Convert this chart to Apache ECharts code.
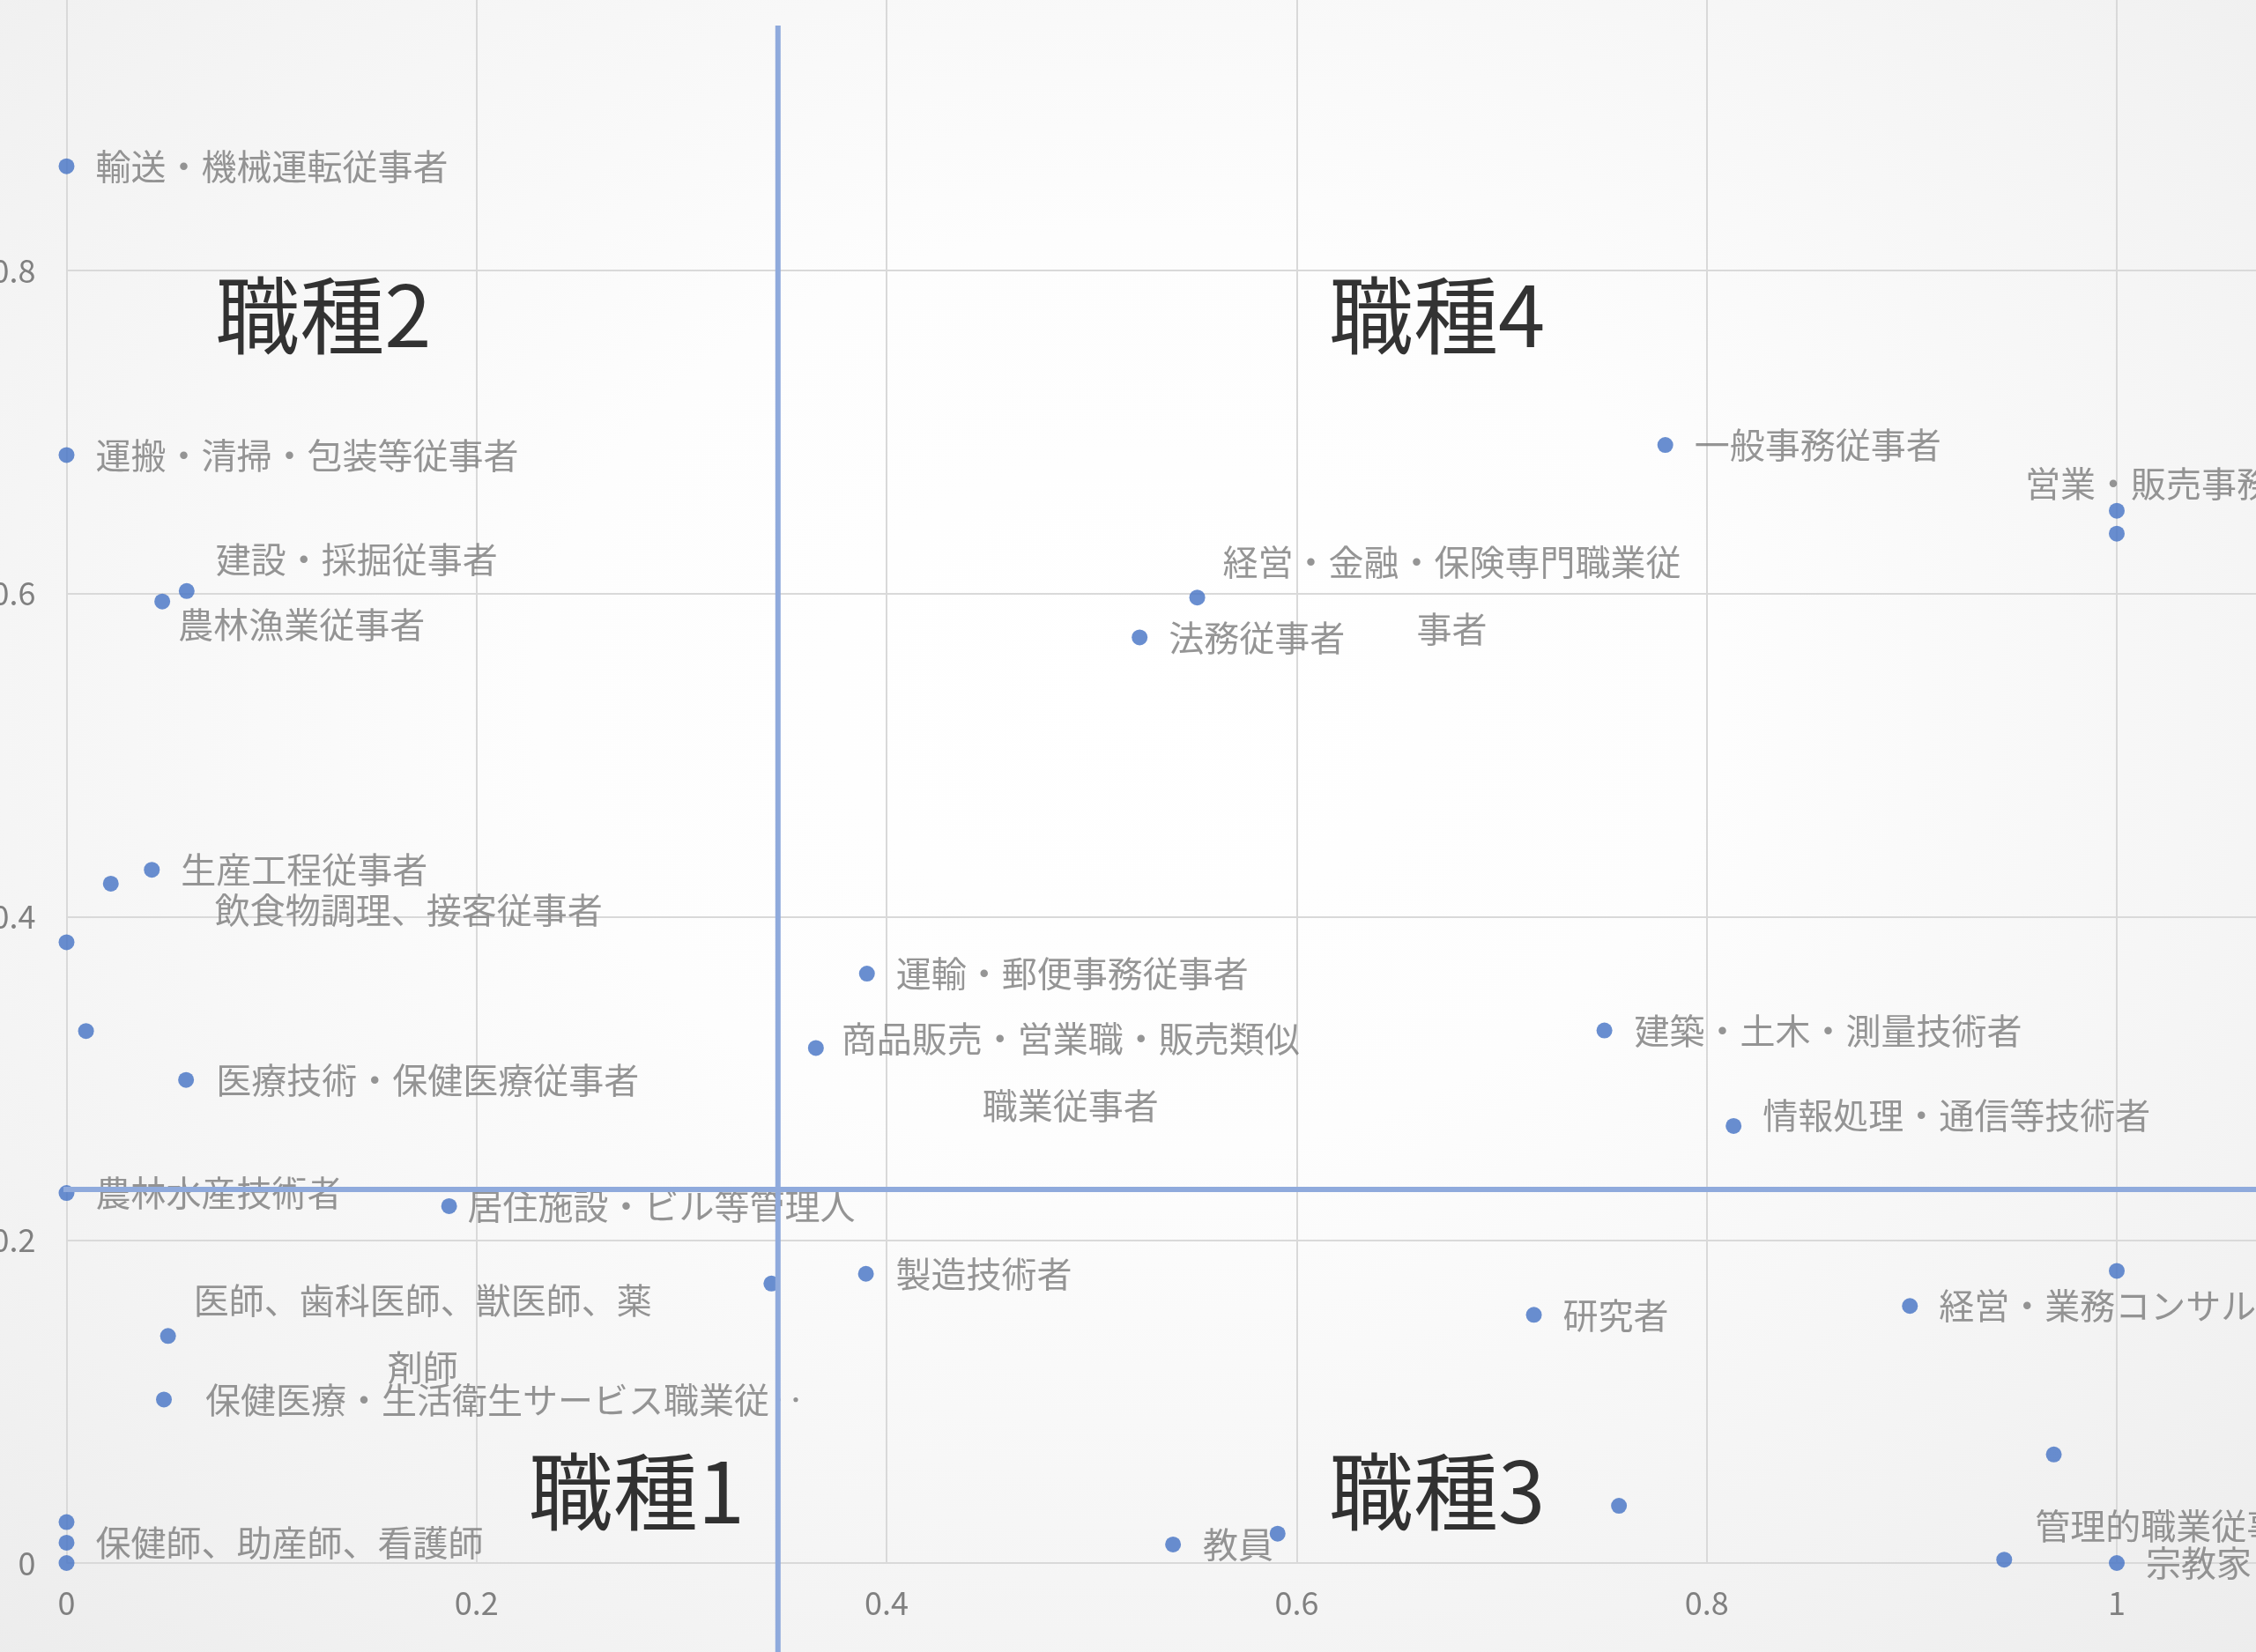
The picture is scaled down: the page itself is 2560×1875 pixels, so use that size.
<!DOCTYPE html>
<html>
<head>
<meta charset="utf-8">
<script src="https://cdn.jsdelivr.net/npm/echarts@6/dist/echarts.min.js"></script>
<style>
html, body { margin: 0; padding: 0; width: 2560px; height: 1875px; overflow: hidden; }
body { background: radial-gradient(ellipse 75% 80% at 50% 42%, #ffffff 0%, #fdfdfd 35%, #f3f3f3 75%, #ececec 100%); position: relative; }
#chart { position: absolute; left: 0; top: -200px; width: 2900px; height: 2200px; }
</style>
</head>
<body>
<div id="chart"></div>
<script>
// ---- data ----
const names = [
  '輸送・機械運転従事者', '運搬・清掃・包装等従事者', '建設・採掘従事者', '農林漁業従事者',
  '生産工程従事者', '飲食物調理、接客従事者', '', '',
  '医療技術・保健医療従事者', '農林水産技術者', '居住施設・ビル等管理人', '',
  '医師、歯科医師、獣医師、薬剤師', '保健医療・生活衛生サービス職業従‥', '', '保健師、助産師、看護師', '',
  '運輸・郵便事務従事者', '商品販売・営業職・販売類似職業従事者', '製造技術者', '教員', '',
  '経営・金融・保険専門職業従事者', '法務従事者', '一般事務従事者', '営業・販売事務従事者', '',
  '建築・土木・測量技術者', '情報処理・通信等技術者', '', '経営・業務コンサルタント', '研究者',
  '', '', '管理的職業従事者', '宗教家'
];
const xValues = [
  0.000, 0.000, 0.0586, 0.0467,
  0.0416, 0.0216, 0.000, 0.0095,
  0.0583, 0.000, 0.1866, 0.3438,
  0.0495, 0.0475, 0.000, 0.000, 0.000,
  0.3904, 0.3655, 0.3899, 0.5397, 0.5907,
  0.5515, 0.5234, 0.7798, 1.000, 1.000,
  0.7501, 0.8131, 1.000, 0.8991, 0.7157,
  0.9693, 0.7572, 0.9451, 1.000
];
const yValues = [
  0.8645, 0.6858, 0.6016, 0.5951,
  0.4291, 0.4205, 0.3842, 0.3293,
  0.2990, 0.2290, 0.2209, 0.1730,
  0.1405, 0.1012, 0.0253, 0.0126, 0.000,
  0.3648, 0.3188, 0.1790, 0.0115, 0.0182,
  0.5976, 0.5729, 0.6920, 0.6513, 0.6371,
  0.3296, 0.2705, 0.1808, 0.1591, 0.1536,
  0.0672, 0.0354, 0.0021, 0.000
];
// quadrant divider positions (data units)
const splitX = 0.347;
const splitXTop = 0.9516;
const splitY = 0.2312;
// quadrant titles and their anchor points (data units)
const quadrantNames = ['職種2', '職種4', '職種1', '職種3'];
const quadrantX = [0.1253, 0.6684, 0.2781, 0.6684];
const quadrantY = [0.7722, 0.7722, 0.0442, 0.0442];
// axes
const xAxisMin = 0, xAxisMax = 1.2, xAxisStep = 0.2;
const yAxisMin = 0, yAxisMax = 1.0, yAxisStep = 0.2;

// ---- label layout (pixel offsets from marker centre; true = wrapped & centred) ----
const labelLayout = {
  '輸送・機械運転従事者': [33, 0],
  '運搬・清掃・包装等従事者': [33, 0],
  '建設・採掘従事者': [33, -36],
  '農林漁業従事者': [18, 26],
  '生産工程従事者': [33, 0],
  '飲食物調理、接客従事者': [118, 30],
  '医療技術・保健医療従事者': [34, 0],
  '農林水産技術者': [33, 0],
  '居住施設・ビル等管理人': [21, 0],
  '医師、歯科医師、獣医師、薬剤師': [289, -3, true],
  '保健医療・生活衛生サービス職業従‥': [47, 0],
  '保健師、助産師、看護師': [33, 0],
  '運輸・郵便事務従事者': [33, 0],
  '商品販売・営業職・販売類似職業従事者': [289, 27, true],
  '製造技術者': [34, 0],
  '教員': [34, 0],
  '経営・金融・保険専門職業従事者': [289, -2, true],
  '法務従事者': [33, 0],
  '一般事務従事者': [33, 0],
  '営業・販売事務従事者': [-104, -31],
  '建築・土木・測量技術者': [34, 0],
  '情報処理・通信等技術者': [33, -12],
  '経営・業務コンサルタント': [33, 0],
  '研究者': [33, 0],
  '管理的職業従事者': [35, -38],
  '宗教家': [33, 0]
};

const FONT = '"Noto Sans CJK JP", "Noto Sans", sans-serif';
const LABEL_COLOR = '#7a7a7a';

const points = names.map((n, i) => {
  const d = { name: n, value: [xValues[i], yValues[i]] };
  const lay = labelLayout[n];
  if (lay) {
    d.label = {
      show: true,
      position: 'inside',
      align: lay[2] ? 'center' : 'left',
      verticalAlign: 'middle'
    };
    if (lay[2]) {
      d.label.width = 525;
      d.label.overflow = 'break';
      d.label.lineHeight = 76;
    }
  } else {
    d.label = { show: false };
  }
  return d;
});

const chart = echarts.init(document.getElementById('chart'), null, { renderer: 'canvas' });
const lineStyleSplit = { color: '#8FAADC', width: 6 };

chart.setOption({
  animation: false,
  backgroundColor: 'transparent',
  grid: {
    left: 75.5, top: 140.25,
    width: 2326.5 * (xAxisMax - xAxisMin), height: 1833.75 * (yAxisMax - yAxisMin),
    containLabel: false, outerBoundsMode: 'none'
  },
  xAxis: {
    type: 'value', min: xAxisMin, max: xAxisMax, interval: xAxisStep,
    axisLine: { show: false }, axisTick: { show: false },
    splitLine: { show: true, lineStyle: { color: '#d9d9d9', width: 2 } },
    axisLabel: { fontSize: 36, color: '#808080', margin: 27, fontFamily: FONT }
  },
  yAxis: {
    type: 'value', min: yAxisMin, max: yAxisMax, interval: yAxisStep,
    axisLine: { show: false }, axisTick: { show: false },
    splitLine: { show: true, lineStyle: { color: '#d9d9d9', width: 2 } },
    axisLabel: { fontSize: 36, color: '#808080', margin: 35, fontFamily: FONT }
  },
  series: [
    {
      type: 'scatter',
      symbol: 'circle',
      symbolSize: 18,
      itemStyle: { color: '#4472C4' },
      data: points,
      label: { formatter: '{b}', fontSize: 40, color: LABEL_COLOR, fontFamily: FONT },
      labelLayout: function (params) {
        const lay = labelLayout[names[params.dataIndex]];
        if (!lay) return {};
        return { dx: lay[0], dy: lay[1], hideOverlap: false, moveOverlap: null };
      },
      z: 2,
      silent: true
    },
    {
      type: 'scatter',
      symbol: 'circle',
      symbolSize: 1,
      itemStyle: { color: 'rgba(0,0,0,0)' },
      data: quadrantNames.map((n, i) => ({ name: n, value: [quadrantX[i], quadrantY[i]] })),
      label: {
        show: true, position: 'inside', formatter: '{b}',
        fontSize: 96, color: '#000000', fontFamily: FONT,
        align: 'center', verticalAlign: 'middle'
      },
      z: 3,
      silent: true
    },
    {
      type: 'line',
      data: [[splitX, splitXTop], [splitX, -0.2]],
      clip: false, symbol: 'none', lineStyle: lineStyleSplit, z: 10, silent: true
    },
    {
      type: 'line',
      data: [[-0.1, splitY], [1.3, splitY]],
      clip: false, symbol: 'none', lineStyle: lineStyleSplit, z: 10, silent: true
    }
  ]
});
</script>
</body>
</html>
